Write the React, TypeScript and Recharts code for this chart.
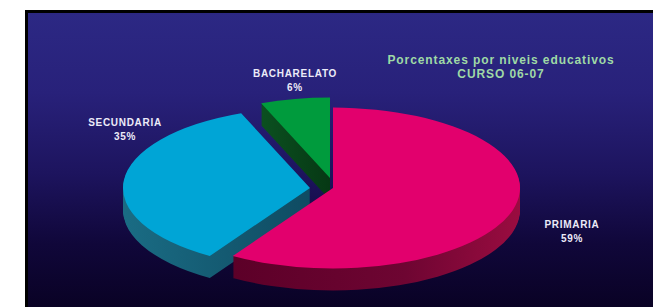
import { PieChart, Pie, Cell } from 'recharts';

// data
const categories = ['PRIMARIA', 'SECUNDARIA', 'BACHARELATO'];
const percents = [59, 35, 6];
const titleLines = ['Porcentaxes por niveis educativos', 'CURSO 06-07'];

const topColors = ['#e2006d', '#00a5d6', '#009b3d'];
const sideFills = ['url(#sidePink)', 'url(#sideCyan)', 'url(#sideGreen)'];

// slice offsets (screen px) - secundaria and bacharelato are pulled out
const explodeX = [0, -23, -3];
const explodeY = [0, 0, -10];

// label spots (screen px)
const labelX = [572, 125, 295];
const labelY = [232, 130, 81];

const data = categories.map((name, i) => ({ name, value: percents[i] }));

const K = 0.43; // vertical squash for the tilted look
const R = 187;
const CX = 333;
const CY = 188;
const DEPTH = 22;
const STEP = 1;

const depths: number[] = [];
for (let d = DEPTH; d > 0; d -= STEP) depths.push(d);

// draw order of the side walls
const sideOrder = [2, 1, 0];
const topOrder = [2, 1, 0];

function SlicePie(g: number, dy: number, fill: string, key: string) {
  return (
    <Pie
      key={key}
      data={data}
      dataKey="value"
      cx={CX + explodeX[g]}
      cy={(CY + explodeY[g] + dy) / K}
      outerRadius={R}
      startAngle={90}
      endAngle={-270}
      stroke="none"
      label={false}
      labelLine={false}
      isAnimationActive={false}
    >
      {data.map((_, i) => (
        <Cell key={i} fill={i === g ? fill : 'transparent'} />
      ))}
    </Pie>
  );
}

export default function App() {
  return (
    <div style={{ position: 'absolute', left: 0, top: 0, width: 653, height: 307, background: '#fff', overflow: 'hidden' }}>
      <div
        style={{
          position: 'absolute',
          left: 25,
          top: 10,
          width: 660,
          height: 320,
          border: '3px solid #000',
          background: 'linear-gradient(to bottom, #2c2884 0%, #28217a 25%, #1d145e 50%, #10073a 72%, #07001c 100%)',
        }}
      />
      <div style={{ position: 'absolute', left: 0, top: 0, transform: `scaleY(${K})`, transformOrigin: '0 0' }}>
        <PieChart width={653} height={720} margin={{ top: 0, right: 0, bottom: 0, left: 0 }}>
          <defs>
            <linearGradient id="sidePink" x1="0" y1="0" x2="1" y2="0">
              <stop offset="0%" stopColor="#5c0028" />
              <stop offset="60%" stopColor="#6e0532" />
              <stop offset="100%" stopColor="#9a0c40" />
            </linearGradient>
            <linearGradient id="sideCyan" x1="0" y1="0" x2="1" y2="0">
              <stop offset="0%" stopColor="#1a6c84" />
              <stop offset="100%" stopColor="#0f4b62" />
            </linearGradient>
            <linearGradient id="sideGreen" x1="0" y1="0" x2="1" y2="0">
              <stop offset="0%" stopColor="#0b5020" />
              <stop offset="100%" stopColor="#063814" />
            </linearGradient>
          </defs>
          {sideOrder.flatMap((g) => depths.map((d) => SlicePie(g, d, sideFills[g], `s${g}-${d}`)))}
          {topOrder.map((g) => SlicePie(g, 0, topColors[g], `t${g}`))}
        </PieChart>
      </div>
      <div
        style={{
          position: 'absolute',
          left: 501,
          top: 53,
          transform: 'translateX(-50%)',
          textAlign: 'center',
          whiteSpace: 'nowrap',
          fontFamily: 'Arial, "Liberation Sans", sans-serif',
          fontWeight: 'bold',
          fontSize: 12,
          letterSpacing: 0.9,
          lineHeight: '14px',
          color: '#9fd9a6',
        }}
      >
        {titleLines.map((t) => (
          <div key={t}>{t}</div>
        ))}
      </div>
      {categories.map((name, i) => (
        <div
          key={name}
          style={{
            position: 'absolute',
            left: labelX[i],
            top: labelY[i],
            transform: 'translate(-50%, -50%)',
            textAlign: 'center',
            whiteSpace: 'nowrap',
            fontFamily: 'Arial, "Liberation Sans", sans-serif',
            fontWeight: 'bold',
            fontSize: 10,
            letterSpacing: 0.7,
            lineHeight: '14px',
            color: '#ecebf8',
          }}
        >
          <div>{name}</div>
          <div>{percents[i]}%</div>
        </div>
      ))}
    </div>
  );
}
